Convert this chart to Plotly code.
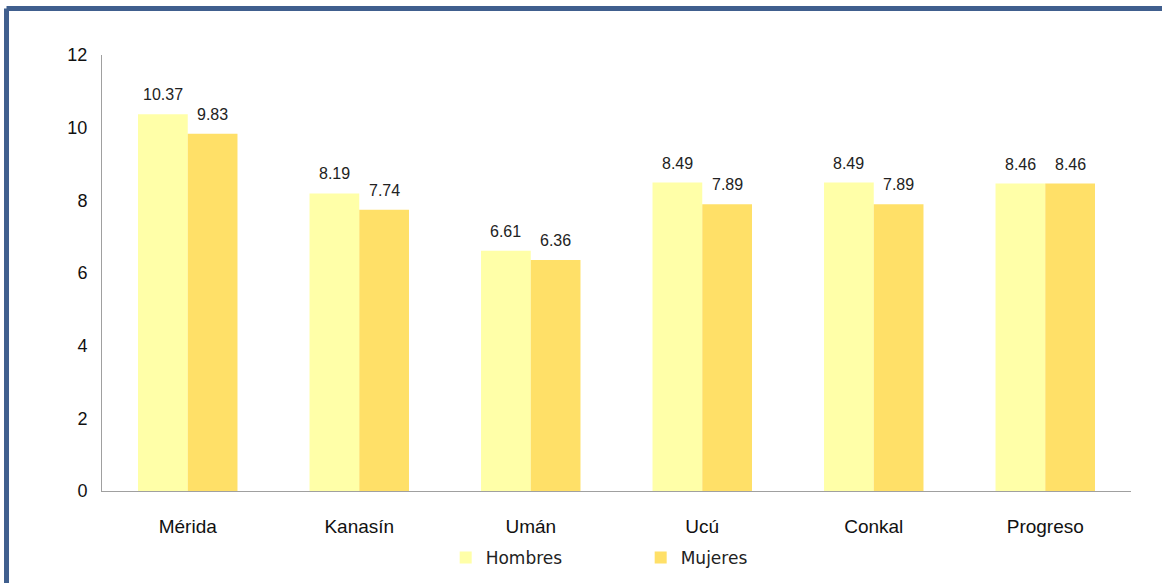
import plotly.graph_objects as go

municipios = ['Mérida', 'Kanasín', 'Umán', 'Ucú', 'Conkal', 'Progreso']
hombres = [10.37, 8.19, 6.61, 8.49, 8.49, 8.46]
mujeres = [9.83, 7.74, 6.36, 7.89, 7.89, 8.46]

_COLORS = {'Hombres': '#FFFFA8', 'Mujeres': '#FFE068'}
_FRAME = '#405F8E'

fig = go.Figure()
for name, vals in [('Hombres', hombres), ('Mujeres', mujeres)]:
    fig.add_trace(go.Bar(
        x=municipios, y=vals, name=name,
        marker=dict(color=_COLORS[name], line_width=0),
    ))

# value labels sit a bit higher above the bars than plotly's outside text
for shift, vals in [(-25, hombres), (25, mujeres)]:
    for cat, v in zip(municipios, vals):
        fig.add_annotation(
            x=cat, y=v, text=f'{v:.2f}', showarrow=False,
            xshift=shift, yshift=9, yanchor='bottom',
            font=dict(family='Liberation Sans, Arial', size=16, color='#222222'),
        )

fig.update_layout(
    width=1162, height=583,
    margin=dict(l=102, r=31, t=55, b=92, autoexpand=False),
    plot_bgcolor='white', paper_bgcolor='white',
    barmode='group', bargap=0.42, bargroupgap=0,
    font=dict(family='Liberation Sans, Arial', color='#111111'),
    legend=dict(
        orientation='h', x=0.334, xanchor='left',
        yref='container', y=0.043, yanchor='middle',
        font=dict(family='DejaVu Sans', size=17, color='#222222'),
        entrywidth=150, entrywidthmode='pixels', itemwidth=30,
    ),
    showlegend=True,
)
fig.update_xaxes(
    showline=True, linecolor='#A0A0A0', linewidth=1, ticks='',
    tickfont=dict(size=19), showgrid=False, ticklabelstandoff=18,
)
fig.update_yaxes(
    range=[0, 12], dtick=2, showline=True, linecolor='#A0A0A0', linewidth=1,
    tickfont=dict(size=18), showgrid=False, zeroline=False, ticks='',
    ticklabelstandoff=10,
)

# dark blue frame (top and left edges visible in the reference)
fig.add_shape(type='line', xref='paper', yref='paper',
              x0=-0.0928, y0=-0.3, x1=-0.0928, y1=1.1067,
              line=dict(color=_FRAME, width=5))
fig.add_shape(type='line', xref='paper', yref='paper',
              x0=-0.0928, y0=1.1067, x1=1.1, y1=1.1067,
              line=dict(color=_FRAME, width=5))

# drop the default body margin so the figure fills the window
fig.write_html('out.html', config={'displayModeBar': False},
               post_script="document.body.style.margin='0px';")
